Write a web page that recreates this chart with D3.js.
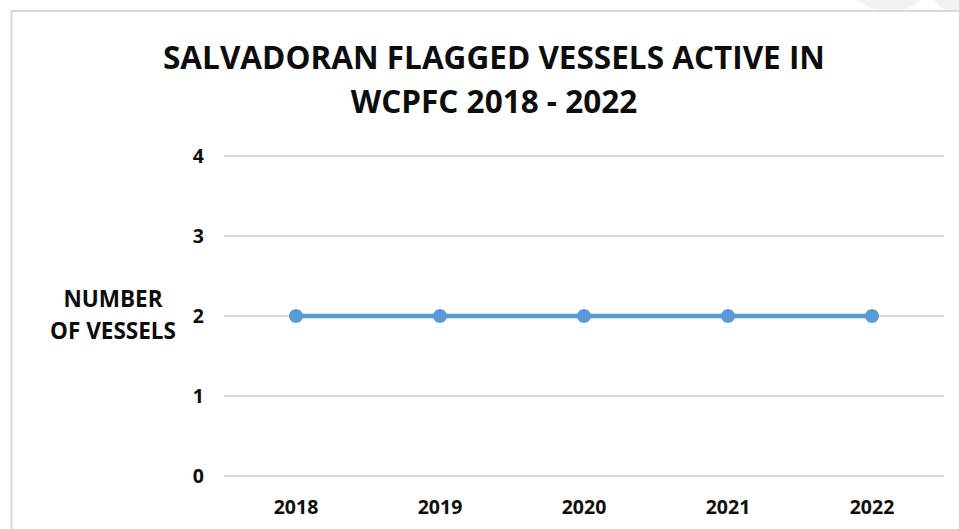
<!DOCTYPE html>
<html>
<head>
<meta charset="utf-8">
<script src="https://cdn.jsdelivr.net/npm/d3@7"></script>
<style>
  body { margin: 0; background: #fff; }
  svg { display: block; }
</style>
</head>
<body>
<svg id="svg"></svg>
<script>
// chart data
var years = ["2018", "2019", "2020", "2021", "2022"];
var vessels = [2, 2, 2, 2, 2];
var yTicks = [0, 1, 2, 3, 4];
var titleLines = ["SALVADORAN FLAGGED VESSELS ACTIVE IN", "WCPFC 2018 - 2022"];
var yTitleLines = ["NUMBER", "OF VESSELS"];

var width = 959, height = 529;
var font = "'Open Sans', sans-serif";

var svg = d3.select("#svg").attr("width", width).attr("height", height);

// faint shapes at the top right edge
svg.append("ellipse").attr("cx", 890).attr("cy", -30).attr("rx", 45).attr("ry", 42).attr("fill", "#f2f2f2");
svg.append("ellipse").attr("cx", 955).attr("cy", -30).attr("rx", 30).attr("ry", 42).attr("fill", "#f2f2f2");

// chart border
svg.append("rect")
    .attr("x", 11.5).attr("y", 11)
    .attr("width", width + 20).attr("height", height + 20)
    .attr("fill", "#fff")
    .attr("stroke", "#d9d9d9")
    .attr("stroke-width", 2);

var x = d3.scaleBand().domain(years).range([224, 944]);
var y = d3.scaleLinear().domain([0, 4]).range([476, 156]);

// title
var title = svg.append("g");
titleLines.forEach(function(t, i){
    title.append("text")
        .attr("x", 494).attr("y", 69 + i * 44)
        .attr("text-anchor", "middle")
        .attr("font-family", font)
        .attr("font-weight", "bold")
        .attr("font-size", 27)
        .attr("fill", "#0d0d0d")
        .text(t);
});
// fit first line to reference width
var t0 = title.select("text").node();
var w0 = t0.getComputedTextLength();
title.selectAll("text").attr("font-size", 27 * 662 / w0);

// gridlines
svg.append("g").selectAll("line").data(yTicks).join("line")
    .attr("x1", 224).attr("x2", 944)
    .attr("y1", function(d){ return y(d); })
    .attr("y2", function(d){ return y(d); })
    .attr("stroke", "#d9d9d9")
    .attr("stroke-width", 2);

// y axis
var yAxis = svg.append("g")
    .attr("transform", "translate(204,0)")
    .call(d3.axisLeft(y).tickValues(yTicks).tickSize(0).tickPadding(0).tickFormat(d3.format("d")));
yAxis.select(".domain").remove();
yAxis.selectAll("text")
    .attr("font-family", font).attr("font-weight", "bold").attr("font-size", 19.5)
    .attr("fill", "#0d0d0d");

// x axis
var xAxis = svg.append("g")
    .attr("transform", "translate(0,476)")
    .call(d3.axisBottom(x).tickSize(0).tickPadding(24));
xAxis.select(".domain").remove();
xAxis.selectAll("text")
    .attr("font-family", font).attr("font-weight", "bold").attr("font-size", 19.5)
    .attr("fill", "#0d0d0d");

// y title
var yTitle = svg.append("g");
yTitleLines.forEach(function(t, i){
    yTitle.append("text")
        .attr("x", 113).attr("y", 307 + i * 32)
        .attr("text-anchor", "middle")
        .attr("font-family", font)
        .attr("font-weight", "bold")
        .attr("font-size", 20)
        .attr("fill", "#0d0d0d")
        .text(t);
});
var w1 = yTitle.selectAll("text").nodes()[1].getComputedTextLength();
yTitle.selectAll("text").attr("font-size", 20 * 126 / w1);

// line series
var line = d3.line()
    .x(function(d, i){ return x(years[i]) + x.bandwidth() / 2; })
    .y(function(d){ return y(d); });

svg.append("path")
    .datum(vessels)
    .attr("d", line)
    .attr("fill", "none")
    .attr("stroke", "#5b9bd5")
    .attr("stroke-width", 4.5);

svg.append("g").selectAll("circle").data(vessels).join("circle")
    .attr("cx", function(d, i){ return x(years[i]) + x.bandwidth() / 2; })
    .attr("cy", function(d){ return y(d); })
    .attr("r", 7)
    .attr("fill", "#5b9bd5");
</script>
</body>
</html>
